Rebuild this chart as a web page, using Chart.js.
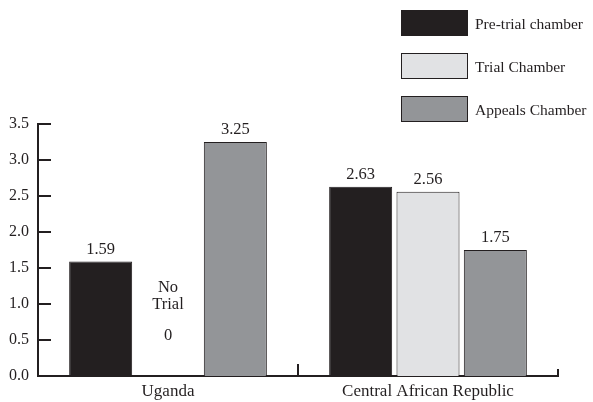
<!DOCTYPE html>
<html>
<head>
<meta charset="utf-8">
<script src="https://cdn.jsdelivr.net/npm/chart.js@4"></script>
<style>
  html, body { margin: 0; padding: 0; background: #fff; }
  #wrap { width: 593px; height: 402px; }
</style>
</head>
<body>
<div id="wrap"><canvas id="chart" width="593" height="402"></canvas></div>
<script>
const categories = ['Uganda', 'Central African Republic'];
const preTrial = [1.59, 2.63];
const trialChamber = [0, 2.56];
const appealsChamber = [3.25, 1.75];
const seriesNames = ['Pre-trial chamber', 'Trial Chamber', 'Appeals Chamber'];

const ink = '#231f20';
const serif = "'Liberation Serif', 'Times New Roman', serif";

// value labels above bars, "No Trial" note for empty bar
const valueLabels = {
  id: 'valueLabels',
  afterDatasetsDraw(chart) {
    const ctx = chart.ctx;
    ctx.save();
    ctx.fillStyle = ink;
    ctx.font = '16.5px ' + serif;
    ctx.textAlign = 'center';
    chart.data.datasets.forEach((ds, di) => {
      chart.getDatasetMeta(di).data.forEach((bar, i) => {
        const v = ds.data[i];
        if (v === 0) {
          ctx.textBaseline = 'middle';
          ctx.fillText('No', bar.x, bar.base - 88);
          ctx.fillText('Trial', bar.x, bar.base - 71);
          ctx.fillText('0', bar.x, bar.base - 40);
        } else {
          ctx.textBaseline = 'alphabetic';
          ctx.fillText(v.toFixed(2), bar.x, bar.y - 8);
        }
      });
    });
    ctx.restore();
  }
};

// inward tick marks on both axes
const axisTicks = {
  id: 'axisTicks',
  afterDraw(chart) {
    const ctx = chart.ctx;
    const x = chart.scales.x, y = chart.scales.y;
    const area = chart.chartArea;
    ctx.save();
    ctx.strokeStyle = ink;
    ctx.lineWidth = 2;
    ctx.beginPath();
    y.ticks.forEach(t => {
      const py = Math.round(y.getPixelForValue(t.value));
      if (py >= area.bottom - 1) return;
      ctx.moveTo(area.left, py);
      ctx.lineTo(area.left + 13, py);
    });
    const mid = (x.getPixelForValue(0) + x.getPixelForValue(1)) / 2;
    ctx.moveTo(Math.round(mid), area.bottom);
    ctx.lineTo(Math.round(mid), area.bottom - 12);
    ctx.moveTo(area.right, area.bottom);
    ctx.lineTo(area.right, area.bottom - 7);
    ctx.stroke();
    ctx.restore();
  }
};

// legend boxes at the top right
const boxLegend = {
  id: 'boxLegend',
  afterDraw(chart) {
    const ctx = chart.ctx;
    ctx.save();
    ctx.font = '15.5px ' + serif;
    ctx.textBaseline = 'middle';
    chart.data.datasets.forEach((ds, i) => {
      const top = 10 + i * 43;
      ctx.fillStyle = ds.backgroundColor;
      ctx.fillRect(401, top, 66, 25);
      ctx.strokeStyle = ink;
      ctx.lineWidth = 1;
      ctx.strokeRect(401.5, top + 0.5, 66, 25);
      ctx.fillStyle = ink;
      ctx.fillText(ds.label, 475, top + 15);
    });
    ctx.restore();
  }
};

const colors = ['#231f20', '#e1e2e4', '#939598'];
const values = [preTrial, trialChamber, appealsChamber];

new Chart(document.getElementById('chart'), {
  type: 'bar',
  data: {
    labels: categories,
    datasets: values.map((d, i) => ({
      label: seriesNames[i],
      data: d,
      backgroundColor: colors[i],
      borderColor: ink,
      borderWidth: 1,
      categoryPercentage: 0.777,
      barPercentage: 0.936
    }))
  },
  options: {
    responsive: false,
    animation: false,
    layout: { padding: { top: 124, right: 35, left: 0, bottom: 0 } },
    plugins: {
      legend: { display: false },
      tooltip: { enabled: false }
    },
    scales: {
      x: {
        grid: { display: false, drawTicks: false },
        border: { display: true, color: ink, width: 2 },
        ticks: { color: ink, font: { family: serif, size: 17 }, padding: 5 },
        afterFit(s) { s.height = 26; }
      },
      y: {
        min: 0,
        max: 3.5,
        grid: { display: false, drawTicks: false },
        border: { display: true, color: ink, width: 2 },
        ticks: {
          stepSize: 0.5,
          color: ink,
          font: { family: serif, size: 16 },
          padding: 9,
          callback: v => v.toFixed(1)
        },
        afterFit(s) { s.width = 38; }
      }
    }
  },
  plugins: [valueLabels, axisTicks, boxLegend]
});
</script>
</body>
</html>
